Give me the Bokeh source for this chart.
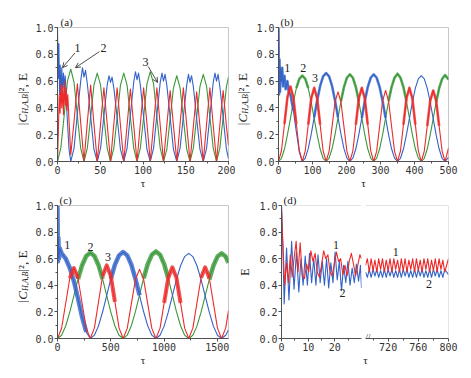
from math import pi
from bokeh.plotting import figure
from bokeh.layouts import row, column
from bokeh.models import (Label, Arrow, OpenHead, Span, FixedTicker, SingleIntervalTicker,
                          PrintfTickFormatter, Range1d)
from bokeh.embed import file_html
from bokeh.resources import INLINE

BLUE = "#3363c8"
GREEN = "#3a983a"
RED = "#ec2a2a"
AX = "#505050"
FRAME = "#c8c8c8"
SERIF = "Liberation Serif"
TXT = "#222222"

# ---------------- panel (a) ----------------
tau_a_blue = [0, 0.8, 1.6, 2.4, 3.2, 4.0, 5.0, 6.0, 7.0, 8.0, 9.0, 10.0, 11.6, 13.5, 15.5,
              19.375, 23.25, 27.125, 29.2, 31, 32.8, 34.875, 38.75, 42.625, 46.5,
              50.375, 54.25, 58.125, 60.2, 62, 63.8, 65.875, 69.75, 73.625, 77.5,
              81.375, 85.25, 89.125, 91.2, 93, 94.8, 96.875, 100.75, 104.625, 108.5,
              112.375, 116.25, 120.125, 122.2, 124, 125.8, 127.875, 131.75, 135.625, 139.5,
              143.375, 147.25, 151.125, 153.2, 155, 156.8, 158.875, 162.75, 166.625, 170.5,
              174.375, 178.25, 182.125, 184.2, 186, 187.8, 189.875, 193.75, 197.625, 200]
val_a_blue = [1.0, 0.62, 0.88, 0.5, 0.72, 0.46, 0.7, 0.52, 0.66, 0.55, 0.64, 0.5, 0.3, 0.09, 0.0,
              0.10, 0.36, 0.60, 0.70, 0.63, 0.68, 0.58, 0.34, 0.09, 0.0,
              0.10, 0.34, 0.57, 0.64, 0.59, 0.63, 0.55, 0.33, 0.09, 0.0,
              0.10, 0.35, 0.59, 0.67, 0.61, 0.66, 0.57, 0.33, 0.09, 0.0,
              0.10, 0.35, 0.59, 0.66, 0.60, 0.65, 0.57, 0.33, 0.09, 0.0,
              0.10, 0.34, 0.57, 0.65, 0.59, 0.64, 0.56, 0.32, 0.09, 0.0,
              0.10, 0.34, 0.59, 0.66, 0.60, 0.65, 0.56, 0.33, 0.09, 0.02]

tau_a = [0, 3.875, 7.75, 11.625, 15.5, 19.375, 23.25, 27.125, 31, 34.875, 38.75, 42.625,
         46.5, 50.375, 54.25, 58.125, 62, 65.875, 69.75, 73.625, 77.5, 81.375, 85.25, 89.125,
         93, 96.875, 100.75, 104.625, 108.5, 112.375, 116.25, 120.125, 124, 127.875, 131.75,
         135.625, 139.5, 143.375, 147.25, 151.125, 155, 158.875, 162.75, 166.625, 170.5,
         174.375, 178.25, 182.125, 186, 189.875, 193.75, 197.625, 200]
val_a_green = [0, 0.10, 0.34, 0.60, 0.69, 0.59, 0.34, 0.10, 0,
               0.10, 0.33, 0.57, 0.66, 0.57, 0.33, 0.10, 0,
               0.10, 0.33, 0.57, 0.66, 0.57, 0.33, 0.10, 0,
               0.10, 0.33, 0.58, 0.67, 0.58, 0.33, 0.10, 0,
               0.09, 0.32, 0.55, 0.64, 0.55, 0.32, 0.09, 0,
               0.10, 0.33, 0.56, 0.65, 0.56, 0.33, 0.10, 0,
               0.10, 0.33, 0.56, 0.63]

tau_a_red = [0, 1, 2, 3, 4, 5, 6, 7, 8, 9, 10, 11, 12, 13.5, 15.5] + tau_a[5:]
val_a_red = [0, 0.22, 0.5, 0.36, 0.58, 0.4, 0.56, 0.35, 0.6, 0.42, 0.55, 0.38, 0.5, 0.3, 0.05,
             0.30, 0.58, 0.29, 0,
             0.29, 0.57, 0.28, 0,
             0.28, 0.55, 0.28, 0,
             0.28, 0.55, 0.27, 0,
             0.27, 0.54, 0.27, 0,
             0.28, 0.55, 0.28, 0,
             0.28, 0.55, 0.27, 0,
             0.27, 0.53, 0.27, 0,
             0.28, 0.55, 0.27, 0,
             0.26, 0.52, 0.26, 0,
             0.28, 0.55, 0.27, 0,
             0.27, 0.53, 0.26, 0.12]

# ---------------- panel (b) ----------------
tau_b = [0, 8.75, 17.5, 26.25, 35, 43.75, 52.5, 61.25, 70, 78.75, 87.5, 96.25, 105, 113.75,
         122.5, 131.25, 140, 148.75, 157.5, 166.25, 175, 183.75, 192.5, 201.25, 210, 218.75,
         227.5, 236.25, 245, 253.75, 262.5, 271.25, 280, 288.75, 297.5, 306.25, 315, 323.75,
         332.5, 341.25, 350, 358.75, 367.5, 376.25, 385, 393.75, 402.5, 411.25, 420, 428.75,
         437.5, 446.25, 455, 463.75, 472.5, 481.25, 490, 500]
val_b_green = [0, 0.024, 0.093, 0.198, 0.32, 0.442, 0.547, 0.616, 0.64,
               0.616, 0.547, 0.442, 0.32, 0.198, 0.093, 0.024, 0,
               0.025, 0.095, 0.201, 0.325, 0.449, 0.555, 0.625, 0.65,
               0.625, 0.555, 0.449, 0.325, 0.201, 0.095, 0.025, 0,
               0.025, 0.095, 0.201, 0.325, 0.449, 0.555, 0.625, 0.655,
               0.625, 0.555, 0.449, 0.325, 0.201, 0.095, 0.025, 0,
               0.024, 0.093, 0.198, 0.32, 0.442, 0.547, 0.616, 0.645,
               0.613]
val_b_red = [0, 0.082, 0.28, 0.478, 0.56, 0.478, 0.28, 0.082, 0,
             0.08, 0.275, 0.47, 0.55, 0.47, 0.275, 0.08, 0,
             0.076, 0.26, 0.444, 0.52, 0.444, 0.26, 0.076, 0,
             0.08, 0.275, 0.47, 0.55, 0.47, 0.275, 0.08, 0,
             0.077, 0.265, 0.453, 0.53, 0.453, 0.265, 0.077, 0,
             0.08, 0.275, 0.47, 0.55, 0.47, 0.275, 0.08, 0,
             0.077, 0.265, 0.453, 0.53, 0.453, 0.265, 0.077, 0,
             0.10]
tau_b_blue = [0, 1.5, 3, 4.5, 6, 8.75, 11, 13.5, 17.5, 21, 26.25, 30, 35, 43.75, 52.5, 61.25, 70] + tau_b[9:]
val_b_blue = [1.0, 0.5, 0.76, 0.52, 0.7, 0.6, 0.7, 0.56, 0.64, 0.54, 0.6, 0.52, 0.5, 0.38, 0.22, 0.07, 0,
              0.025, 0.096, 0.204, 0.33, 0.456, 0.564, 0.635, 0.66,
              0.635, 0.564, 0.456, 0.33, 0.204, 0.096, 0.025, 0,
              0.025, 0.095, 0.201, 0.325, 0.449, 0.555, 0.625, 0.65,
              0.625, 0.555, 0.449, 0.325, 0.201, 0.095, 0.025, 0,
              0.024, 0.093, 0.198, 0.32, 0.442, 0.547, 0.616, 0.64,
              0.616, 0.547, 0.442, 0.32, 0.198, 0.093, 0.024, 0,
              0.03]
thick_b_blue = [(0, 45), (105, 175), (245, 315)]
thick_b_green = [(45, 95), (180, 240), (320, 380), (460, 500)]
thick_b_red = [(15, 55), (85, 125), (225, 265), (365, 405), (435, 475)]

# ---------------- panel (c) ----------------
tau_c = [0, 38.5, 77, 115.5, 154, 192.5, 231, 269.5, 308, 346.5, 385, 423.5, 462, 500.5, 539,
         577.5, 616, 654.5, 693, 731.5, 770, 808.5, 847, 885.5, 924, 962.5, 1001, 1039.5,
         1078, 1116.5, 1155, 1193.5, 1232, 1270.5, 1309, 1347.5, 1386, 1424.5, 1463, 1501.5,
         1540, 1578.5, 1605]
val_c_green = [0, 0.0245, 0.094, 0.199, 0.3225, 0.446, 0.551, 0.620, 0.645,
               0.620, 0.551, 0.446, 0.3225, 0.199, 0.094, 0.0245, 0,
               0.025, 0.096, 0.202, 0.328, 0.453, 0.559, 0.630, 0.655,
               0.630, 0.559, 0.453, 0.328, 0.202, 0.096, 0.025, 0,
               0.024, 0.093, 0.198, 0.32, 0.442, 0.547, 0.616, 0.64,
               0.616, 0.57]
val_c_red = [0, 0.077, 0.265, 0.453, 0.53, 0.453, 0.265, 0.077, 0,
             0.08, 0.275, 0.47, 0.55, 0.47, 0.275, 0.08, 0,
             0.076, 0.26, 0.444, 0.52, 0.444, 0.26, 0.076, 0,
             0.078, 0.2675, 0.457, 0.535, 0.457, 0.2675, 0.078, 0,
             0.078, 0.2675, 0.457, 0.535, 0.457, 0.2675, 0.078, 0,
             0.078, 0.21]
tau_c_blue = [0, 4, 8, 14, 20, 38.5, 77, 115.5, 154, 192.5, 231, 269.5, 308] + tau_c[9:]
val_c_blue = [1.0, 0.58, 0.76, 0.6, 0.68, 0.64, 0.6, 0.53, 0.43, 0.3, 0.16, 0.05, 0,
              0.025, 0.095, 0.201, 0.325, 0.449, 0.555, 0.625, 0.65,
              0.625, 0.555, 0.449, 0.325, 0.201, 0.095, 0.025, 0,
              0.024, 0.093, 0.198, 0.32, 0.442, 0.547, 0.616, 0.64,
              0.616, 0.547, 0.442, 0.32, 0.198, 0.093, 0.024, 0,
              0.024, 0.065]
thick_c_blue = [(0, 290), (470, 770)]
thick_c_green = [(180, 440), (780, 1070), (1400, 1605)]
thick_c_red = [(110, 200), (390, 540), (1000, 1160), (1310, 1460)]

# ---------------- panel (d) ----------------
tau_d_blue = [0, 0.5, 1.0, 1.9, 2.8, 3.8, 4.7, 5.6, 6.5, 7.3, 8.1, 8.9, 9.7, 10.5, 11.3, 12.1,
              12.9, 13.7, 14.5, 15.3, 16.1, 16.9, 17.7, 18.5, 19.3, 20.1, 20.9, 21.7, 22.5,
              23.3, 24.1, 24.9, 25.7, 26.5, 27.3, 28.1, 28.9, 29.6, 30]
val_d_blue = [1.0, 0.72, 0.26, 0.68, 0.29, 0.73, 0.37, 0.65, 0.35, 0.6, 0.4, 0.62, 0.4, 0.64,
              0.42, 0.6, 0.4, 0.63, 0.42, 0.58, 0.4, 0.6, 0.38, 0.57, 0.42, 0.65, 0.44, 0.58,
              0.36, 0.55, 0.42, 0.58, 0.4, 0.53, 0.42, 0.56, 0.43, 0.55, 0.38]
tau_d_red = [0, 0.4, 1.2, 1.9, 2.6, 3.3, 4.0, 4.7, 5.5, 6.2, 7.0, 7.8, 8.6, 9.4, 10.2, 11.0,
             11.8, 12.6, 13.4, 14.2, 15.0, 15.8, 16.6, 17.4, 18.2, 19.0, 19.8, 20.6, 21.4,
             22.2, 23.0, 23.8, 24.6, 25.4, 26.2, 27.0, 27.8, 28.6, 29.4, 30]
val_d_red = [0.98, 0.75, 0.4, 0.57, 0.42, 0.63, 0.46, 0.6, 0.73, 0.5, 0.72, 0.47, 0.45, 0.56,
             0.5, 0.66, 0.58, 0.64, 0.5, 0.46, 0.55, 0.66, 0.6, 0.63, 0.5, 0.47, 0.56, 0.65,
             0.58, 0.6, 0.48, 0.55, 0.47, 0.58, 0.64, 0.56, 0.47, 0.55, 0.63, 0.6]
tau_d_late = [690, 692.5, 695, 697.5, 700, 702.5, 705, 707.5, 710, 712.5, 715, 717.5, 720,
              722.5, 725, 727.5, 730, 732.5, 735, 737.5, 740, 742.5, 745, 747.5, 750, 752.5,
              755, 757.5, 760, 762.5, 765, 767.5, 770, 772.5, 775, 777.5, 780, 782.5, 785,
              787.5, 790, 792.5, 795, 797.5, 800]
val_d_red_late = [0.55, 0.6, 0.5, 0.6, 0.51, 0.59, 0.5, 0.6, 0.52, 0.6,
                  0.5, 0.59, 0.51, 0.6, 0.5, 0.6, 0.52, 0.59, 0.5, 0.6,
                  0.51, 0.6, 0.5, 0.59, 0.52, 0.6, 0.5, 0.6, 0.51, 0.59,
                  0.5, 0.6, 0.52, 0.6, 0.5, 0.59, 0.51, 0.6, 0.5, 0.6,
                  0.52, 0.59, 0.5, 0.55, 0.6]
val_d_blue_late = [0.5, 0.46, 0.52, 0.46, 0.52, 0.47, 0.52, 0.46, 0.51, 0.46,
                   0.52, 0.46, 0.52, 0.47, 0.52, 0.46, 0.51, 0.46, 0.52, 0.46,
                   0.52, 0.47, 0.52, 0.46, 0.51, 0.46, 0.52, 0.46, 0.52, 0.47,
                   0.52, 0.46, 0.51, 0.46, 0.52, 0.46, 0.52, 0.47, 0.52, 0.46,
                   0.51, 0.46, 0.52, 0.5, 0.48]

H1 = 191   # top row height
H2 = 177   # bottom row height
FH = 136   # nominal frame height


def make_fig(w, h, x0, x1, bl, br, bt, bb, yaxis=True, outline=True, tag=None, tag_off=2):
    kw = {}
    if tag:
        kw["title"] = tag
    p = figure(width=w, height=h, x_range=Range1d(x0, x1), y_range=Range1d(0, 1),
               output_backend="svg", toolbar_location=None,
               min_border_left=bl, min_border_right=br, min_border_top=bt, min_border_bottom=bb,
               y_axis_location="left" if yaxis else None, **kw)
    if tag:
        p.title.align = "left"
        p.title.offset = tag_off
        p.title.standoff = 0
        p.title.text_font = SERIF
        p.title.text_font_size = "11px"
        p.title.text_font_style = "normal"
        p.title.text_color = TXT
    p.grid.visible = False
    p.outline_line_color = FRAME if outline else None
    p.background_fill_color = "white"
    p.border_fill_color = "white"
    for ax in p.axis:
        ax.axis_line_color = AX
        ax.axis_line_width = 1
        ax.major_tick_line_color = AX
        ax.minor_tick_line_color = AX
        ax.major_tick_in = 0
        ax.major_tick_out = 3
        ax.minor_tick_in = 0
        ax.minor_tick_out = 2
        ax.major_label_text_font = "DejaVu Sans Mono"
        ax.major_label_text_font_size = "10px"
        ax.major_label_text_color = "#333333"
        ax.major_label_standoff = 1
        ax.axis_label_text_font = SERIF
        ax.axis_label_text_font_size = "11px"
        ax.axis_label_text_font_style = "normal"
        ax.axis_label_text_color = TXT
        ax.axis_label_standoff = 0
    if yaxis:
        p.yaxis.ticker = SingleIntervalTicker(interval=0.2, num_minor_ticks=2)
        p.yaxis.formatter = PrintfTickFormatter(format="%.1f")
    return p


def label_strip(w, h, bt, bb, xc, ysub):
    """Narrow text-only figure, frame aligned with its neighbour's frame, holding the
    rotated |C_{H,A,B}|^2, E label. xc in px from the strip's left, ysub in y-data units."""
    s = figure(width=w, height=h, x_range=Range1d(0, w), y_range=Range1d(0, 1),
               output_backend="svg", toolbar_location=None,
               min_border_left=0, min_border_right=0, min_border_top=bt, min_border_bottom=bb,
               x_axis_location=None, y_axis_location=None)
    s.grid.visible = False
    s.outline_line_color = None
    s.background_fill_color = "white"
    s.border_fill_color = "white"
    half = 10.0 / FH
    common = dict(angle=pi / 2, text_font=SERIF, text_color=TXT, text_baseline="middle")
    s.add_layout(Label(x=xc, y=ysub - half, text="|C", text_font_size="13px",
                       text_font_style="italic", text_align="right", **common))
    s.add_layout(Label(x=xc + 3, y=ysub, text="H,A,B", text_font_size="8px",
                       text_font_style="italic", text_align="center", **common))
    s.add_layout(Label(x=xc, y=ysub + half, text="|\u00b2, E", text_font_size="13px",
                       text_align="left", **common))
    return s


def curve(p, t, v, color, thick=None, tw=3):
    p.line(t, v, line_color=color, line_width=1.1, line_join="round")
    if thick:
        for lo, hi in thick:
            idx = [i for i, x in enumerate(t) if lo <= x <= hi]
            p.line([t[i] for i in idx], [v[i] for i in idx], line_color=color,
                   line_width=tw, line_alpha=0.8, line_join="round")


def txt(p, x, y, s, size="12px", align="center"):
    p.add_layout(Label(x=x, y=y, text=s, text_font=SERIF, text_font_size=size,
                       text_color=TXT, text_align=align, text_baseline="middle"))


# ---- (a)
la = label_strip(29, H1, 27, 29, 22, 0.43)
pa = make_fig(206, H1, 0, 200, 28, 7, 27, 28, tag="(a)", tag_off=3)
pa.xaxis.ticker = SingleIntervalTicker(interval=50, num_minor_ticks=2)
pa.xaxis.axis_label = "\u03c4"
curve(pa, tau_a, val_a_green, GREEN)
curve(pa, tau_a_blue, val_a_blue, BLUE)
curve(pa, tau_a_red, val_a_red, RED)
txt(pa, 23.4, 0.845, "1")
txt(pa, 53.8, 0.845, "2")
txt(pa, 103, 0.74, "3")
for xs, ys, xe, ye in [(20.5, 0.81, 5.8, 0.70), (49, 0.82, 21, 0.70), (106, 0.71, 117, 0.59)]:
    pa.add_layout(Arrow(end=OpenHead(size=5, line_color=TXT, line_width=0.8),
                        x_start=xs, y_start=ys, x_end=xe, y_end=ye,
                        line_color=TXT, line_width=0.8))

# ---- (b)
lb = label_strip(18, H1, 27, 29, 7, 0.43)
pb = make_fig(210, H1, 0, 500, 25, 15, 27, 28, tag="(b)", tag_off=2)
pb.xaxis.ticker = SingleIntervalTicker(interval=100, num_minor_ticks=2)
pb.xaxis.axis_label = "\u03c4"
curve(pb, tau_b, val_b_green, GREEN, thick_b_green, tw=2.6)
curve(pb, tau_b_blue, val_b_blue, BLUE, thick_b_blue, tw=2.6)
curve(pb, tau_b, val_b_red, RED, thick_b_red, tw=2.6)
txt(pb, 25.5, 0.70, "1")
txt(pb, 72.5, 0.70, "2")
txt(pb, 107, 0.62, "3")

# ---- (c)
lc = label_strip(29, H2, 12, 29, 22, 0.43)
pc = make_fig(206, H2, 0, 1605, 28, 7, 12, 29, tag="(c)", tag_off=2)
pc.xaxis.ticker = SingleIntervalTicker(interval=500, num_minor_ticks=2)
pc.xaxis.axis_label = "\u03c4"
curve(pc, tau_c, val_c_green, GREEN, thick_c_green, tw=4.5)
curve(pc, tau_c_blue, val_c_blue, BLUE, thick_c_blue, tw=4.5)
curve(pc, tau_c, val_c_red, RED, thick_c_red, tw=4)
txt(pc, 91, 0.70, "1")
txt(pc, 310, 0.69, "2")
txt(pc, 473, 0.61, "3")

# ---- (d) split axis (small gap at the break)
pd1 = make_fig(128, H2, 0, 30, 43, 2, 12, 29, outline=False, tag="(d)", tag_off=2)
pd1.xaxis.ticker = FixedTicker(ticks=[0, 10, 20], minor_ticks=[5, 15, 25])
pd1.yaxis.axis_label = "E"
pd1.yaxis.axis_label_standoff = 4
pd1.yaxis.axis_label_text_font_size = "12px"
pd1.add_layout(Span(location=1, dimension="width", line_color=FRAME, line_width=1))
curve(pd1, tau_d_blue, val_d_blue, BLUE)
curve(pd1, tau_d_red, val_d_red, RED)
txt(pd1, 20.4, 0.70, "1")
txt(pd1, 22.9, 0.34, "2")

pd2 = make_fig(100, H2, 690, 800, 2, 15, 12, 29, yaxis=False, outline=False)
pd2.xaxis.ticker = FixedTicker(ticks=[720, 760, 800], minor_ticks=[700, 740, 780])
pd2.xaxis.axis_label = "\u03c4"
if "axis_label_align" in pd2.xaxis[0].properties():
    pd2.xaxis.axis_label_align = "start"
pd2.add_layout(Span(location=1, dimension="width", line_color=FRAME, line_width=1))
pd2.add_layout(Span(location=800, dimension="height", line_color=FRAME, line_width=1))
curve(pd2, tau_d_late, val_d_blue_late, BLUE)
curve(pd2, tau_d_late, val_d_red_late, RED)
txt(pd2, 730, 0.65, "1")
txt(pd2, 774, 0.41, "2")
txt(pd2, 690, 0.015, "//", size="9px", align="left")

layout = column(row(la, pa, lb, pb), row(lc, pc, pd1, pd2))

with open("out.html", "w") as f:
    f.write(file_html(layout, INLINE))
